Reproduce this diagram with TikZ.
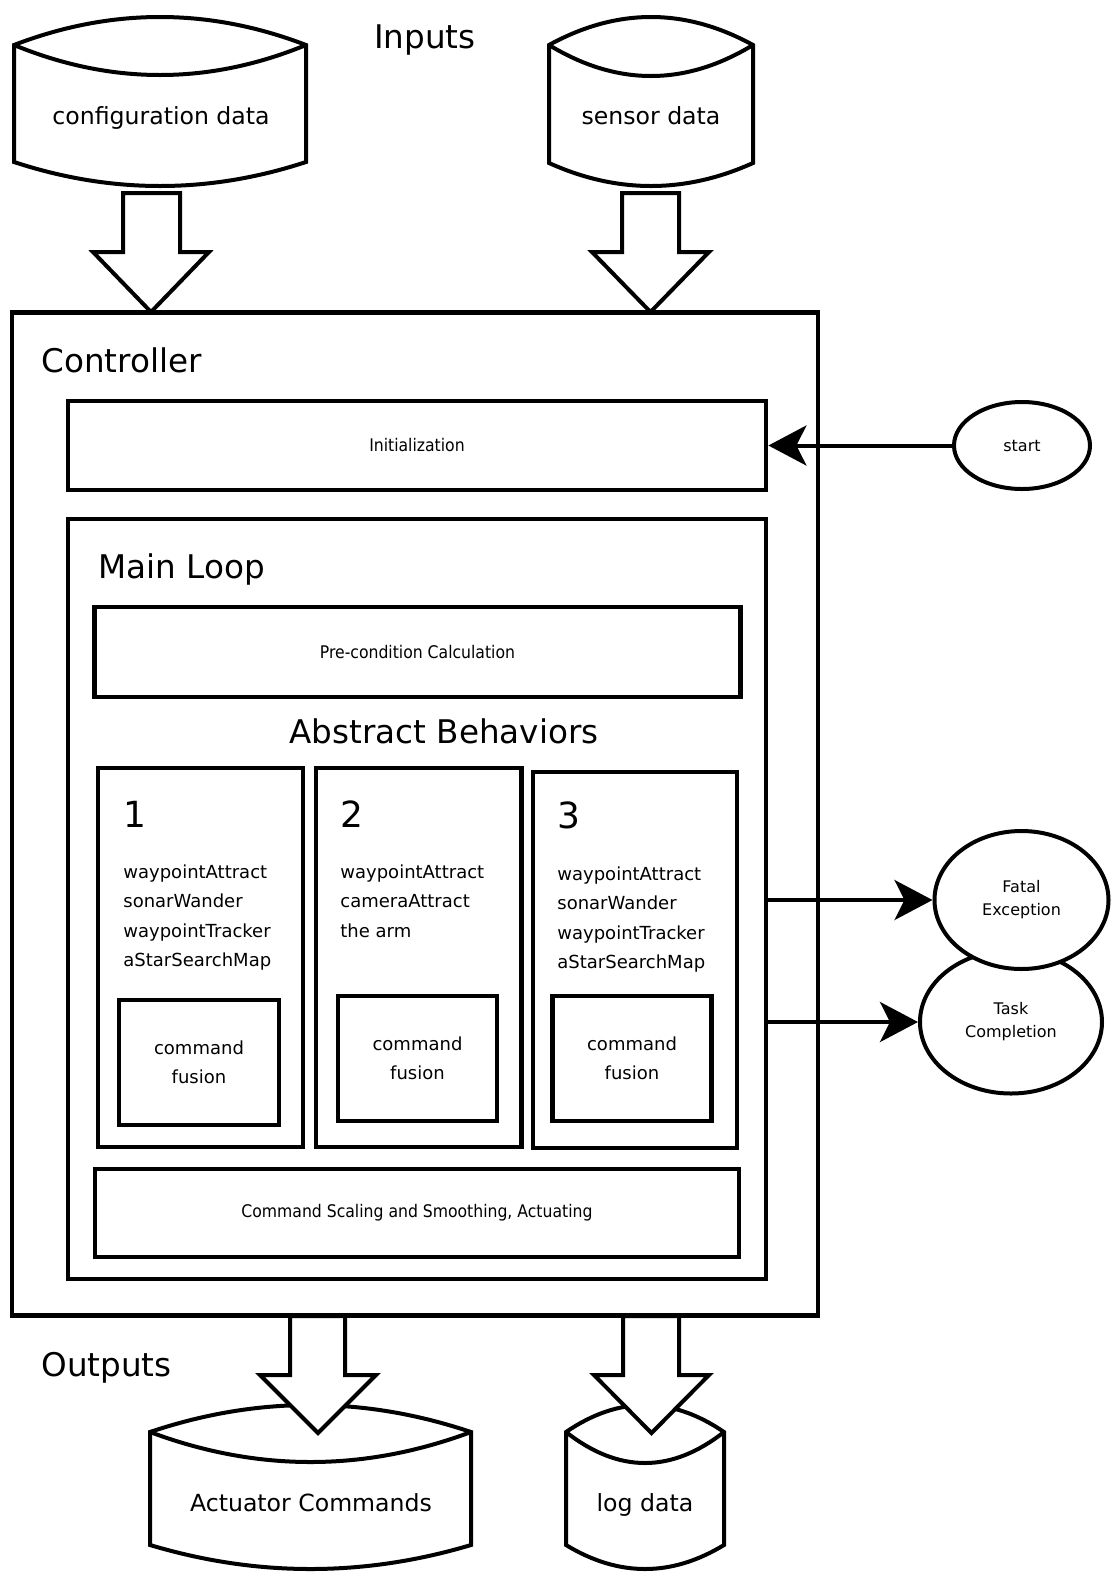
\documentclass[tikz,border=0pt]{standalone}
\usepackage{fontspec}
\setmainfont{DejaVu Sans}
\newfontfamily\condfont{DejaVu Sans Condensed}
\usetikzlibrary{arrows.meta,shapes.geometric}
\newcommand\drumshape[7]{% L R yapex yside ylow ybot ybapex
  \draw[drum,fill=white] (#1,#4) .. controls ({#1+(#2-#1)/3},{#4+(#3-#4)*4/3}) and ({#2-(#2-#1)/3},{#4+(#3-#4)*4/3}) .. (#2,#4)
     -- (#2,#6) .. controls ({#2-(#2-#1)/3},{#6+(#7-#6)*4/3}) and ({#1+(#2-#1)/3},{#6+(#7-#6)*4/3}) .. (#1,#6) -- cycle;
  \draw[drum] (#1,#4) .. controls ({#1+(#2-#1)/3},{#4+(#5-#4)*4/3}) and ({#2-(#2-#1)/3},{#4+(#5-#4)*4/3}) .. (#2,#4);
}
\newcommand\hollowdown[7]{% shaftL shaftR headL headR ytop yshoulder ytip
  \draw[hollow] (#1,#5) -- (#1,#6) -- (#3,#6) -- ({(#3+#4)/2},#7) -- (#4,#6) -- (#2,#6) -- (#2,#5) -- cycle;
}
\begin{document}
\begin{tikzpicture}[x=0.5pt,y=-0.5pt,line join=miter,
  box/.style={draw,rectangle,line width=2.4pt,inner sep=0pt,fill=white},
  ell/.style={draw,ellipse,line width=2pt,inner sep=0pt,fill=white,align=center,font=\fontsize{8}{11.5}\selectfont},
  drum/.style={line width=2pt},
  hollow/.style={draw,line width=2pt,fill=white,line join=miter},
  conn/.style={line width=2pt,-{Stealth[length=19pt,width=20pt,inset=5pt]}},
  biglabel/.style={inner sep=0pt,font=\fontsize{16.3}{18}\selectfont},
  drumtext/.style={inner sep=0pt,font=\fontsize{11.8}{14}\selectfont},
  condtext/.style={font=\condfont\fontsize{8.7}{10}\selectfont},
  listtext/.style={inner sep=0pt,align=left,font=\fontsize{9}{14.65}\selectfont},
  fusetext/.style={align=center,font=\fontsize{9}{14.6}\selectfont},
  numtext/.style={inner sep=0pt,font=\fontsize{18}{20}\selectfont}]
\useasboundingbox (0,0) rectangle (1110,1575);

% inputs
\drumshape{14}{306}{17}{45}{75}{162}{186}
\drumshape{549}{753}{17}{45}{76}{163}{186}
\node[drumtext,anchor=base] (cfg) at (161,124) {configuration data};
\node[drumtext,anchor=base] (sens) at (651,124) {sensor data};
\node[biglabel,anchor=base] (inputs) at (425,48) {Inputs};

% controller
\node[box,minimum width=403pt,minimum height=501.5pt] (ctrl) at (415,814) {};
\node[biglabel,anchor=base west] (ctrllbl) at (41,372) {Controller};

\hollowdown{123}{180}{93}{209}{193}{252}{312}
\hollowdown{622}{679}{592}{709}{193}{252}{312}

\node[box,minimum width=349pt,minimum height=44.5pt,condtext] (init) at (417,445.5) {Initialization};
\node[box,minimum width=349pt,minimum height=380pt] (mainloop) at (417,899) {};
\node[biglabel,anchor=base west] (mllbl) at (98,578) {Main Loop};
\node[box,minimum width=323pt,minimum height=45pt,condtext] (precond) at (417.5,652) {Pre-condition Calculation};
\node[biglabel,anchor=base] (abst) at (444,743) {Abstract Behaviors};

\node[box,minimum width=102.5pt,minimum height=189.5pt] (b1) at (200.5,957.5) {};
\node[box,minimum width=102.75pt,minimum height=189.5pt] (b2) at (418.75,957.5) {};
\node[box,minimum width=102pt,minimum height=188pt] (b3) at (635,960) {};

\node[numtext,anchor=base west] (n1) at (123,827) {1};
\node[numtext,anchor=base west] (n2) at (340,827) {2};
\node[numtext,anchor=base west] (n3) at (557,828) {3};

\node[listtext,anchor=north west] (l1) at (123,864.5) {waypointAttract\\sonarWander\\waypointTracker\\aStarSearchMap};
\node[listtext,anchor=north west] (l2) at (340,864.5) {waypointAttract\\cameraAttract\\the arm};
\node[listtext,anchor=north west] (l3) at (557,866.5) {waypointAttract\\sonarWander\\waypointTracker\\aStarSearchMap};

\node[box,minimum width=80pt,minimum height=62.5pt,fusetext] (f1) at (199,1062.5) {command\\fusion};
\node[box,minimum width=79.5pt,minimum height=62.5pt,fusetext] (f2) at (417.5,1058.5) {command\\fusion};
\node[box,minimum width=79.5pt,minimum height=62.5pt,fusetext] (f3) at (632,1058.5) {command\\fusion};

\node[box,minimum width=322pt,minimum height=44pt,condtext] (scal) at (417,1213) {Command Scaling and Smoothing, Actuating};

% right side
\node[ell,minimum width=68pt,minimum height=43.5pt] (start) at (1022,445.5) {start};
\node[ell,minimum width=91pt,minimum height=71.5pt] (task) at (1011,1022) {Task\\Completion};
\node[ell,minimum width=87pt,minimum height=69pt] (fatal) at (1021.5,900) {Fatal\\Exception};

\draw[conn] (start.west) -- (start.west -| init.east);
\draw[conn] (fatal.west -| mainloop.east) -- (fatal.west);
\draw[conn] (task.west -| mainloop.east) -- (task.west);

% outputs
\node[biglabel,anchor=base west] (outlbl) at (41,1376) {Outputs};
\drumshape{150}{471}{1405}{1432}{1462}{1545}{1569}
\drumshape{566}{724}{1405}{1432}{1463}{1545}{1569}
\node[drumtext,anchor=base] (act) at (311,1511) {Actuator Commands};
\node[drumtext,anchor=base] (logd) at (645,1511) {log data};
\hollowdown{290}{345}{260}{376}{1316}{1375}{1433}
\hollowdown{623}{679}{594}{709}{1316}{1375}{1433}
\end{tikzpicture}
\end{document}
